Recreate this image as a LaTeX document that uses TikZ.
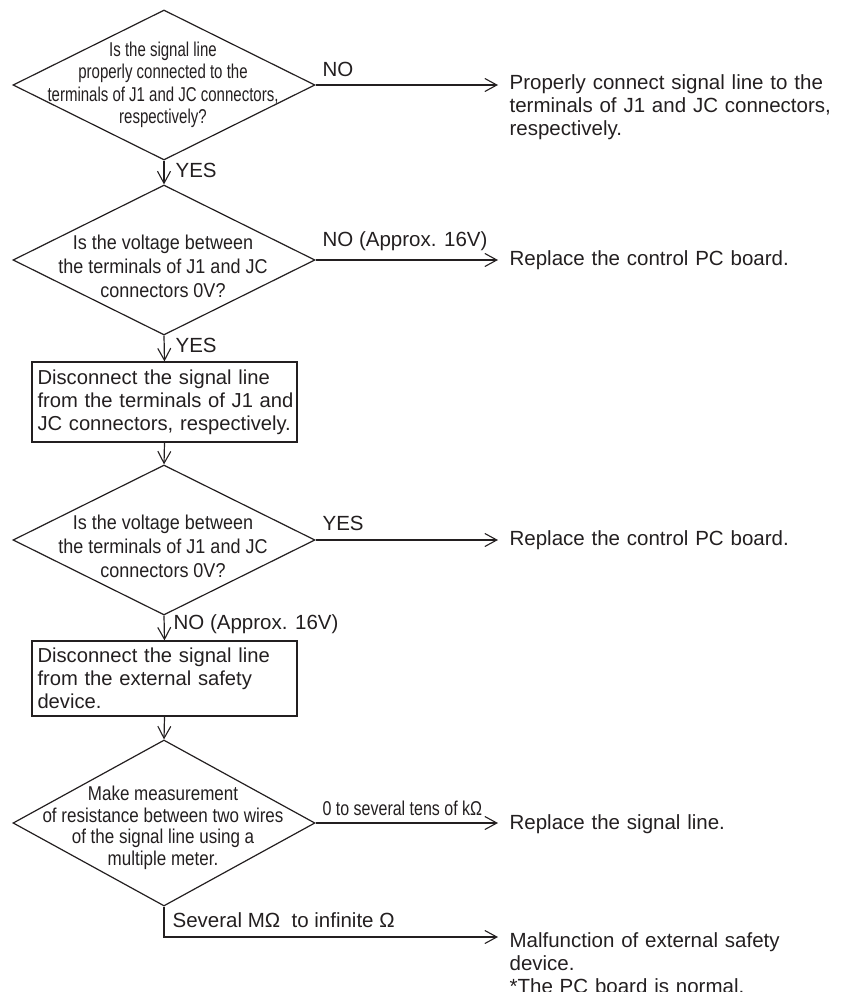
\documentclass[tikz,border=0pt]{standalone}
\usepackage{fontspec}
\setmainfont{Liberation Sans}
% condensed cuts for the text inside the decision diamonds
\newfontfamily\condA{Liberation Sans}[FakeStretch=0.75]
\newfontfamily\condB{Liberation Sans}[FakeStretch=0.90]
\newfontfamily\condC{Liberation Sans}[FakeStretch=0.85]
\newfontfamily\condD{Liberation Sans}[FakeStretch=0.80]
\usetikzlibrary{shapes.geometric,arrows.meta}
\definecolor{ink}{HTML}{231F20}

\begin{document}
\begin{tikzpicture}[x=1pt,y=-1pt,
  line width=1.2pt, draw=ink, text=ink,
  decision/.style={draw, diamond, minimum width=302, minimum height=150, inner sep=0pt},
  qtext/.style={align=center, inner sep=0pt},
  stepbox/.style={draw, rectangle, minimum width=265, text width=254, inner xsep=5.5pt,
    inner ysep=0pt, align=left, font=\fontsize{20.2}{23}\selectfont},
  result/.style={anchor=base west, inner sep=0pt, text width=330, align=left,
    font=\fontsize{20.5}{23}\selectfont},
  lbl/.style={anchor=base west, inner sep=0pt, font=\fontsize{20.5}{23}\selectfont},
  arr/.style={-{Straight Barb[length=12pt,width=13pt,line width=1.1pt]}}
]
\useasboundingbox (0,0) rectangle (840,992);

% decision diamonds
\node[decision] (d1) at (164,85) {};
\node[decision] (d2) at (164,260) {};
\node[decision] (d3) at (164,540) {};
\node[decision, minimum height=166] (d4) at (164,823) {};

% diamond texts
\node[qtext, font=\condA\fontsize{20}{22.5}\selectfont] (q1) at (163,85)
  {Is the signal line\\properly connected to the\\terminals of J1 and JC connectors,\\respectively?};
\node[qtext, font=\condB\fontsize{20}{24}\selectfont] (q2) at (163,266.5)
  {Is the voltage between\\the terminals of J1 and JC\\connectors 0V?};
\node[qtext, font=\condB\fontsize{20}{24}\selectfont] (q3) at (163,546)
  {Is the voltage between\\the terminals of J1 and JC\\connectors 0V?};
\node[qtext, font=\condC\fontsize{20}{21.5}\selectfont] (q4) at (163,828)
  {Make measurement\\of resistance between two wires\\of the signal line using a\\multiple meter.};

% action boxes (each line kept whole)
\node[stepbox, minimum height=80] (b1) at (164.5,402)
  {\mbox{Disconnect the signal line}\\\mbox{from the terminals of J1 and}\\\mbox{JC connectors, respectively.}};
\node[stepbox, minimum height=75] (b2) at (164.5,678.5)
  {\mbox{Disconnect the signal line}\\\mbox{from the external safety}\\\mbox{device.}};

% outcomes on the right
\node[result] (r1) at (509,90)
  {Properly connect signal line to the\\terminals of J1 and JC connectors,\\respectively.};
\node[result] (r2) at (509,265) {Replace the control PC board.};
\node[result] (r3) at (509,545) {Replace the control PC board.};
\node[result] (r4) at (509,829) {Replace the signal line.};
\node[result] (r5) at (509,947)
  {Malfunction of external safety\\device.\\{*}The PC board is normal.};

% arrow end points in front of the outcomes
\coordinate (e1) at (498,85);
\coordinate (e2) at (498,260);
\coordinate (e3) at (498,540);
\coordinate (e4) at (498,823);
\coordinate (e5) at (498,937);

% main flow
\draw[arr] (d1.south) -- (d2.north);
\draw[arr] (d2.south) -- (b1.north);
\draw[arr] (b1.south) -- (d3.north);
\draw[arr] (d3.south) -- (b2.north);
\draw[arr] (b2.south) -- (d4.north);

% side branches
\draw[arr] (d1.east) -- (e1);
\draw[arr] (d2.east) -- (e2);
\draw[arr] (d3.east) -- (e3);
\draw[arr] (d4.east) -- (e4);
\draw[arr] (d4.south) |- (e5);

% branch labels
\node[lbl] (l1) at (322,77) {NO};
\node[lbl] (l2) at (175,178) {YES};
\node[lbl] (l3) at (322,246) {NO (Approx. 16V)};
\node[lbl] (l4) at (175,352) {YES};
\node[lbl] (l5) at (322,530) {YES};
\node[lbl] (l6) at (173,629) {NO (Approx. 16V)};
\node[lbl, font=\condD\fontsize{20}{22}\selectfont] (l7) at (322,815) {0 to several tens of kΩ};
\node[lbl] (l8) at (172,927) {Several MΩ\ \ to infinite Ω};
\end{tikzpicture}
\end{document}
